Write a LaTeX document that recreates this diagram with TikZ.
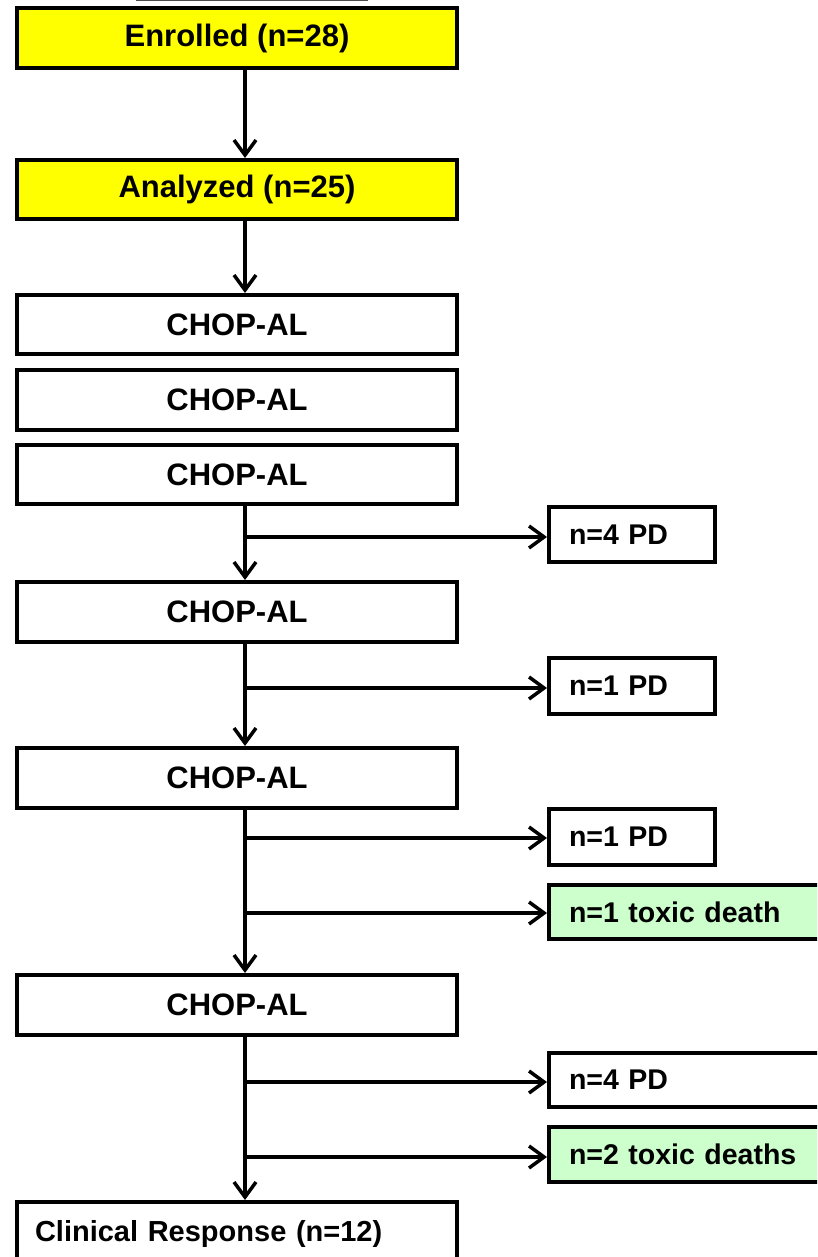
\documentclass[tikz,border=0pt]{standalone}
\usepackage{fontspec}
\setmainfont{Liberation Sans}
\usetikzlibrary{arrows.meta}
\definecolor{boxyellow}{HTML}{FFFF00}
\definecolor{boxgreen}{HTML}{CCFFCC}
\begin{document}
\begin{tikzpicture}[x=1pt,y=-1pt,
  mainbox/.style={draw, line width=4pt, inner sep=0pt, minimum width=440pt, minimum height=60pt,
    font=\bfseries\fontsize{31}{31}\selectfont},
  sidebox/.style={draw, line width=4pt, anchor=west, inner xsep=20pt, inner ysep=0pt,
    minimum height=55pt, align=left, font=\bfseries\fontsize{28.5}{30}\selectfont},
  conn/.style={line width=3.5pt, -{Straight Barb[length=15pt,width=22pt]}}]
\useasboundingbox (0,0) rectangle (817,1257);
\clip (0,0) rectangle (817,1257);
% cropped box above
\draw[line width=3pt, draw=black!70] (137,-60) rectangle (366,-0.5);
% main column
\node[mainbox, fill=boxyellow] (enr) at (237,38) {Enrolled (n=28)};
\node[mainbox, fill=boxyellow, minimum height=59pt] (ana) at (237,189.5) {Analyzed (n=25)};
\node[mainbox, minimum height=59pt] (c1) at (237,324.5) {CHOP-AL};
\node[mainbox] (c2) at (237,400) {CHOP-AL};
\node[mainbox, minimum height=59pt] (c3) at (237,474.5) {CHOP-AL};
\node[mainbox] (c4) at (237,612) {CHOP-AL};
\node[mainbox] (c5) at (237,778) {CHOP-AL};
\node[mainbox] (c6) at (237,1005) {CHOP-AL};
\node[mainbox, minimum height=64pt, text width=404pt, inner xsep=18pt, align=left,
  font=\bfseries\fontsize{29}{29}\selectfont] (cr) at (237,1234) {Clinical Response (n=12)};
% side boxes
\node[sidebox, text width=126pt] (pd1) at (547,534.5) {n=4 PD};
\node[sidebox, text width=126pt, minimum height=56pt] (pd2) at (547,686) {n=1 PD};
\node[sidebox, text width=126pt, minimum height=56pt] (pd3) at (547,837) {n=1 PD};
\node[sidebox, text width=280pt, fill=boxgreen, minimum height=54pt] (td1) at (547,912) {n=1 toxic death};
\node[sidebox, text width=280pt, minimum height=54pt] (pd4) at (547,1080) {n=4 PD};
\node[sidebox, text width=280pt, fill=boxgreen] (td2) at (547,1154.5) {n=2 toxic deaths};
% vertical connectors
\draw[conn] ([xshift=8pt]enr.south) -- ([xshift=8pt]ana.north);
\draw[conn] ([xshift=8pt]ana.south) -- ([xshift=8pt]c1.north);
\draw[conn] ([xshift=8pt]c3.south) -- ([xshift=8pt]c4.north);
\draw[conn] ([xshift=8pt]c4.south) -- ([xshift=8pt]c5.north);
\draw[conn] ([xshift=8pt]c5.south) -- ([xshift=8pt]c6.north);
\draw[conn] ([xshift=8pt]c6.south) -- ([xshift=8pt]cr.north);
% side connectors
\draw[conn] ([xshift=8pt]c3.south |- 0,537) -- (pd1.west |- 0,537);
\draw[conn] ([xshift=8pt]c4.south |- 0,688) -- (pd2.west |- 0,688);
\draw[conn] ([xshift=8pt]c5.south |- 0,838) -- (pd3.west |- 0,838);
\draw[conn] ([xshift=8pt]c5.south |- 0,913) -- (td1.west |- 0,913);
\draw[conn] ([xshift=8pt]c6.south |- 0,1082) -- (pd4.west |- 0,1082);
\draw[conn] ([xshift=8pt]c6.south |- 0,1157) -- (td2.west |- 0,1157);
\end{tikzpicture}
\end{document}
